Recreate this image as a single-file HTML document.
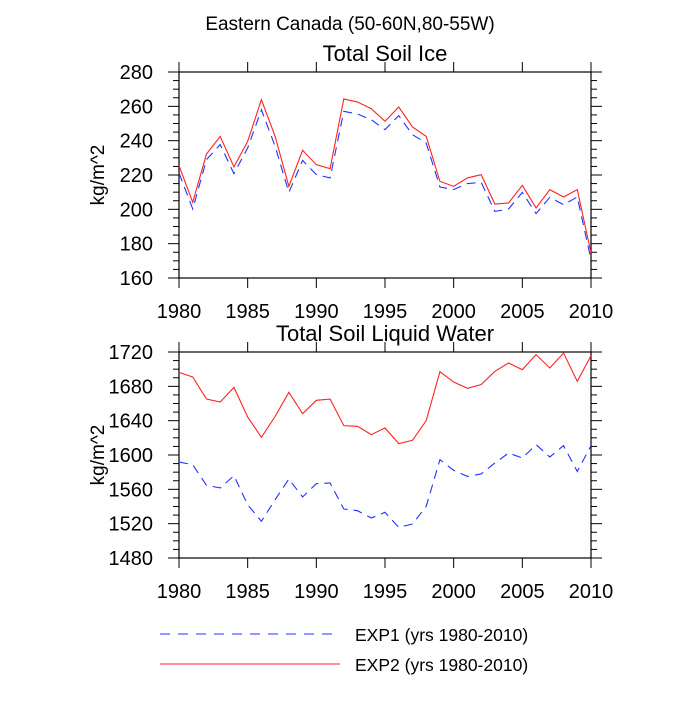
<!DOCTYPE html>
<html><head><meta charset="utf-8"><style>
html,body{margin:0;padding:0;background:#fff;}
svg text{font-family:"Liberation Sans",sans-serif;fill:#000;}
</style></head><body>
<svg id="chart" width="700" height="700">
<text x="350" y="30" font-size="19" text-anchor="middle">Eastern Canada (50-60N,80-55W)</text>
<g id="p1"></g>
<g id="p2"></g>
<g>
<line x1="160" y1="634" x2="340" y2="634" stroke="#2233ff" stroke-width="1" stroke-dasharray="10,8"/>
<text x="355" y="641" font-size="17.5">EXP1 (yrs 1980-2010)</text>
<line x1="160" y1="664" x2="340" y2="664" stroke="#ff2222" stroke-width="1"/>
<text x="355" y="671" font-size="17.5">EXP2 (yrs 1980-2010)</text>
</g>
</svg>
<script>
var years=[];for(var y=1980;y<=2010;y++)years.push(y);
var xTicks=[1980,1985,1990,1995,2000,2005,2010];
var iceExp1=[221.2,200.2,228.9,237.7,220.8,235.7,258,236.7,209.9,228.5,220.2,218.3,257.1,255.5,252.2,246.4,254.6,243.5,238.6,213,211.5,215,215.7,198.8,200.2,209.9,197.5,207,202.7,207.2,170.7];
var iceExp2=[225.4,204.1,232.2,242.5,224.7,239.6,263.9,242.5,213.4,234.4,226,223.7,264.3,262.5,258.6,251.3,259.6,248,242.5,216.3,213.4,218.3,220.2,203.1,203.7,214,200.8,211.5,207.2,211.5,174.6];
var iceTicks=[160,180,200,220,240,260,280];
var liqExp1=[1591.8,1588.7,1564.7,1561.6,1575.9,1542.1,1522.7,1548,1572,1551.1,1566.6,1567.4,1537.1,1535.1,1526.6,1533.2,1515.7,1519.6,1540.2,1594.6,1582.1,1575.1,1577.9,1590.7,1602.3,1596.5,1612,1597.7,1610.9,1580.9,1610.9];
var liqExp2=[1696.3,1690.9,1665.2,1661.7,1678.8,1644.3,1620.6,1645,1673,1648.2,1663.7,1665.2,1634.2,1633.4,1623.7,1631.5,1613.2,1617.1,1640,1697.1,1685,1677.7,1682,1697.5,1707.2,1699.4,1716.9,1701.4,1718.8,1685.8,1715.7];
var liqTicks=[1480,1520,1560,1600,1640,1680,1720];
var NS="http://www.w3.org/2000/svg";
function mk(p,t,a){var e=document.createElementNS(NS,t);for(var k in a)e.setAttribute(k,a[k]);p.appendChild(e);return e;}
function panel(g,top,ticks,s1,s2,title,pre){
 var L=179,R=591,T=top,B=top+206;
 var y0=ticks[0],y1=ticks[ticks.length-1];
 function sx(v){return L+(v-1980)/30*(R-L);}
 function sy(v){return B-(v-y0)/(y1-y0)*(B-T);}
 var t=mk(g,'text',{x:(L+R)/2,y:T-11,'font-size':22,'text-anchor':'middle'});t.textContent=title;
 
 
 var f=mk(g,'rect',{x:L,y:T,width:R-L,height:B-T,fill:'none',stroke:'#000','stroke-width':1.2});
 
 
 var step=(ticks[1]-ticks[0])/4;
 for(var v=y0;v<=y1+1e-6;v+=step){var yy=sy(v);var r=(v-y0)/(ticks[1]-ticks[0]);var maj=Math.abs(r-Math.round(r))<1e-6;var len=maj?11:6;
  mk(g,'line',{x1:L-len,y1:yy,x2:L,y2:yy,stroke:'#000'});mk(g,'line',{x1:R,y1:yy,x2:R+len,y2:yy,stroke:'#000'});}
 ticks.forEach(function(v){var l=mk(g,'text',{x:L-26,y:sy(v)+7,'font-size':20,'text-anchor':'end'});l.textContent=v;
  
  });
 xTicks.forEach(function(v){var xx=sx(v);mk(g,'line',{x1:xx,y1:T-10,x2:xx,y2:T,stroke:'#000'});mk(g,'line',{x1:xx,y1:B,x2:xx,y2:B+10,stroke:'#000'});
  var l=mk(g,'text',{x:xx,y:B+40,'font-size':20,'text-anchor':'middle'});l.textContent=v;
  
  });
 var yl=mk(g,'text',{x:0,y:0,'font-size':19,'text-anchor':'middle',transform:'translate(104,'+((T+B)/2)+') rotate(-90)'});yl.textContent='kg/m^2';
 
 
 function line(d,c,dash,n){var p=mk(g,'polyline',{points:d.map(function(v,i){return sx(years[i])+','+sy(v);}).join(' '),fill:'none',stroke:c,'stroke-width':1.1});if(dash)p.setAttribute('stroke-dasharray',dash);
  
  }
 line(s1,'#2233ff','9,6',pre+'-exp1-line');line(s2,'#ff2222',null,pre+'-exp2-line');
}
panel(document.getElementById('p1'),72,iceTicks,iceExp1,iceExp2,'Total Soil Ice','ice');
panel(document.getElementById('p2'),352,liqTicks,liqExp1,liqExp2,'Total Soil Liquid Water','liquid');
</script>
</body></html>
